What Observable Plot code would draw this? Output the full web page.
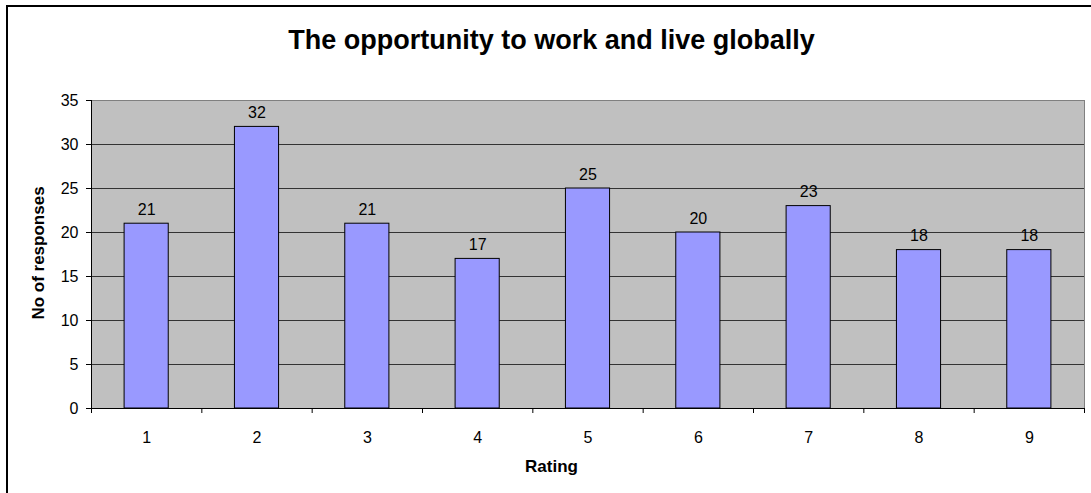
<!DOCTYPE html>
<html>
<head>
<meta charset="utf-8">
<script src="https://cdn.jsdelivr.net/npm/d3@7"></script>
<script src="https://cdn.jsdelivr.net/npm/@observablehq/plot@0.6"></script>
<style>
  html, body { margin: 0; padding: 0; background: #fff; }
  #wrap { position: relative; width: 1091px; height: 493px; overflow: hidden; font-family: "Liberation Sans", Arial, sans-serif; }
  #border { position: absolute; left: 6px; top: 5px; width: 2000px; height: 2000px; border-top: 2px solid #000; border-left: 2px solid #000; }
  #chart { position: absolute; left: 0; top: 0; }
  .t { position: absolute; white-space: nowrap; color: #000; font-weight: bold; }
  #title { left: 0; width: 1103px; text-align: center; top: 27px; font-size: 27px; line-height: 27px; }
  #xlabel { left: 0; width: 1103px; text-align: center; top: 458px; font-size: 17px; line-height: 17px; }
  #ylabel { left: 38px; top: 253px; font-size: 17px; line-height: 17px; transform: translate(-50%, -50%) rotate(-90deg); }
</style>
</head>
<body>
<div id="wrap">
  <div id="border"></div>
  <div id="chart"></div>
  <div class="t" id="title">The opportunity to work and live globally</div>
  <div class="t" id="xlabel">Rating</div>
  <div class="t" id="ylabel">No of responses</div>
</div>
<script>
const ratings = [1, 2, 3, 4, 5, 6, 7, 8, 9];
const responses = [21, 32, 21, 17, 25, 20, 23, 18, 18];
const yTicks = [0, 5, 10, 15, 20, 25, 30, 35];
const gridTicks = [5, 10, 15, 20, 25, 30];

const data = ratings.map((r, i) => ({rating: r, value: responses[i]}));
const boundaries = [0, ...ratings].map(r => r + 0.5);
const half = 0.2;

const chart = Plot.plot({
  width: 1091,
  height: 493,
  marginTop: 100,
  marginLeft: 91,
  marginRight: 7,
  marginBottom: 85,
  style: {fontFamily: "'Liberation Sans', Arial, sans-serif", fontSize: "16px", background: "transparent", color: "#000"},
  x: {domain: [0.5, 9.5]},
  y: {domain: [0, 35]},
  marks: [
    Plot.frame({fill: "#c0c0c0", stroke: "#808080"}),
    Plot.ruleY(gridTicks, {stroke: "#333", strokeWidth: 1}),
    Plot.rectY(data, {x1: d => d.rating - half, x2: d => d.rating + half, y: "value", fill: "#9999ff", stroke: "#000", strokeWidth: 1}),
    Plot.text(data, {x: "rating", y: "value", text: d => String(d.value), lineAnchor: "bottom", dy: -9, fontSize: 16, fill: "#000"}),
    Plot.ruleY([0], {stroke: "#000"}),
    Plot.ruleX([0.5], {stroke: "#000"}),
    Plot.axisY({ticks: yTicks, tickSize: 5, tickPadding: 8, fontSize: 16, label: null, tickFormat: d => String(d)}),
    Plot.axisX({ticks: boundaries, tickSize: 5, tickFormat: () => "", label: null}),
    Plot.axisX({ticks: ratings, tickSize: 0, tickPadding: 23, fontSize: 16, label: null, tickFormat: d => String(d)})
  ]
});
document.getElementById("chart").appendChild(chart);
</script>
</body>
</html>
